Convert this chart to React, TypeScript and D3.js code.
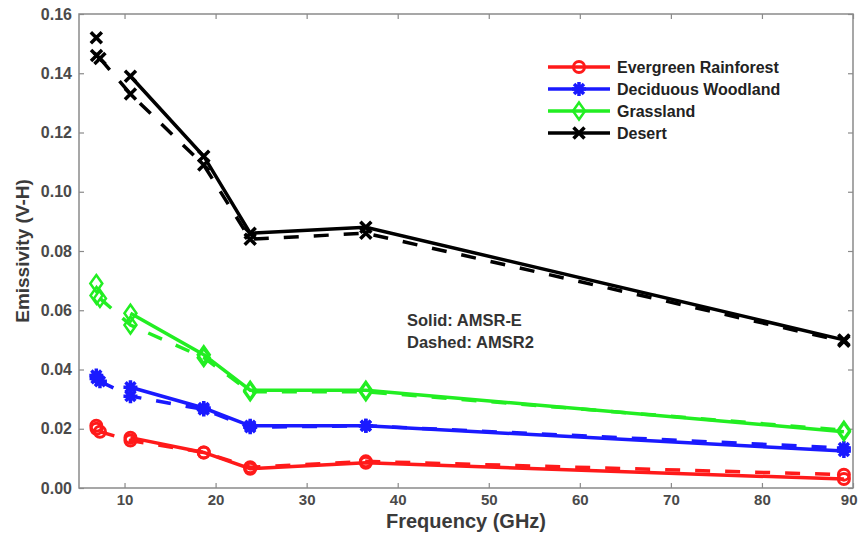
import { useEffect, useRef } from 'react';
import * as d3 from 'd3';

// chart size
const W = 858;
const H = 548;
const margin = { top: 14, right: 5, bottom: 60, left: 79 };

// frequencies (GHz)
const freqAMSRE = [6.9, 10.65, 18.7, 23.8, 36.5, 89];
const freqAMSR2 = [6.925, 7.3, 10.65, 18.7, 23.8, 36.5, 89];

// emissivity differences (V-H), solid = AMSR-E, dashed = AMSR2
const evergreenE = [0.021, 0.017, 0.012, 0.0065, 0.0085, 0.003];
const evergreenA2 = [0.02, 0.019, 0.016, 0.012, 0.007, 0.009, 0.0045];
const deciduousE = [0.038, 0.034, 0.027, 0.021, 0.021, 0.0125];
const deciduousA2 = [0.037, 0.036, 0.031, 0.0265, 0.0205, 0.021, 0.0135];
const grasslandE = [0.069, 0.059, 0.045, 0.033, 0.033, 0.019];
const grasslandA2 = [0.065, 0.064, 0.055, 0.044, 0.0325, 0.0325, 0.0195];
const desertE = [0.152, 0.139, 0.112, 0.086, 0.088, 0.05];
const desertA2 = [0.146, 0.145, 0.133, 0.109, 0.084, 0.086, 0.0495];

const seriesNames = ['Evergreen Rainforest', 'Deciduous Woodland', 'Grassland', 'Desert'];
const seriesColors = ['#ff1a1a', '#1a1aff', '#22ee22', '#000000'];
const seriesMarkers = ['circle', 'asterisk', 'diamond', 'cross'];
const valuesE = [evergreenE, deciduousE, grasslandE, desertE];
const valuesA2 = [evergreenA2, deciduousA2, grasslandA2, desertA2];

const xTicks = [10, 20, 30, 40, 50, 60, 70, 80, 90];
const yTicks = [0, 0.02, 0.04, 0.06, 0.08, 0.1, 0.12, 0.14, 0.16];

const FONT = 'Arial, "Liberation Sans", sans-serif';

type G = d3.Selection<SVGGElement, unknown, null, undefined>;

// draw one MATLAB style marker
const drawMarker = (g: G, kind: string, cx: number, cy: number, color: string) => {
    if (kind === 'circle') {
        g.append('circle').attr('cx', cx).attr('cy', cy).attr('r', 5.5)
            .attr('fill', 'none').attr('stroke', color).attr('stroke-width', 3);
    } else if (kind === 'diamond') {
        g.append('path')
            .attr('d', `M${cx},${cy - 8.5}L${cx + 6},${cy}L${cx},${cy + 8.5}L${cx - 6},${cy}Z`)
            .attr('fill', 'none').attr('stroke', color).attr('stroke-width', 2.5);
    } else if (kind === 'asterisk') {
        const r = 7;
        let d = '';
        for (let a = 0; a < 4; a++) {
            const t = (a * Math.PI) / 4;
            d += `M${cx - r * Math.cos(t)},${cy - r * Math.sin(t)}L${cx + r * Math.cos(t)},${cy + r * Math.sin(t)}`;
        }
        g.append('path').attr('d', d).attr('stroke', color).attr('stroke-width', 3.5);
    } else {
        const r = 5.5;
        g.append('path')
            .attr('d', `M${cx - r},${cy - r}L${cx + r},${cy + r}M${cx - r},${cy + r}L${cx + r},${cy - r}`)
            .attr('stroke', color).attr('stroke-width', 3.5);
    }
};

const App = () => {
    const ref = useRef<SVGSVGElement>(null);

    useEffect(() => {
        const svg = d3.select(ref.current as SVGSVGElement);
        svg.selectAll('*').remove();

        const x = d3.scaleLinear().domain([5, 90]).range([margin.left, W - margin.right]);
        const y = d3.scaleLinear().domain([0, 0.16]).range([H - margin.bottom, margin.top]);

        const axisColor = '#8a8a8a';
        const labelColor = '#4a4a4a';

        // frame (box on)
        svg.append('rect')
            .attr('x', x(5)).attr('y', y(0.16))
            .attr('width', x(90) - x(5)).attr('height', y(0) - y(0.16))
            .attr('fill', 'none').attr('stroke', axisColor).attr('stroke-width', 1.5);

        // axes with inward ticks
        const styleAxis = (size: number) => (g: G) => {
            g.select('.domain').remove();
            g.selectAll('line').attr('stroke', axisColor).attr('stroke-width', 1.2);
            g.selectAll('text')
                .attr('fill', labelColor)
                .style('font-family', FONT)
                .style('font-weight', 'bold')
                .style('font-size', `${size}px`);
        };
        const xAxis = svg.append('g').attr('transform', `translate(0,${y(0)})`)
            .call(d3.axisBottom(x).tickValues(xTicks).tickSize(-5).tickPadding(6).tickFormat(d3.format('d')))
            .call(styleAxis(15));
        // last label sits at the very edge, keep it inside the page
        xAxis.selectAll<SVGTextElement, number>('text')
            .filter(d => d === 90)
            .attr('text-anchor', 'end')
            .attr('x', W - 1 - x(90));
        svg.append('g').attr('transform', `translate(0,${y(0.16)})`)
            .call(d3.axisTop(x).tickValues(xTicks).tickSize(-5).tickFormat(() => ''))
            .call(styleAxis(15));
        svg.append('g').attr('transform', `translate(${x(5)},0)`)
            .call(d3.axisLeft(y).tickValues(yTicks).tickSize(-5).tickPadding(7).tickFormat(d3.format('.2f')))
            .call(styleAxis(16));
        svg.append('g').attr('transform', `translate(${x(90)},0)`)
            .call(d3.axisRight(y).tickValues(yTicks).tickSize(-5).tickFormat(() => ''))
            .call(styleAxis(15));

        // axis titles
        svg.append('text')
            .attr('x', (x(5) + x(90)) / 2).attr('y', 528)
            .attr('text-anchor', 'middle')
            .attr('fill', '#3a3a3a')
            .style('font-family', FONT).style('font-weight', 'bold').style('font-size', '20px')
            .text('Frequency (GHz)');
        svg.append('text')
            .attr('transform', `translate(29,${(y(0) + y(0.16)) / 2}) rotate(-90)`)
            .attr('text-anchor', 'middle')
            .attr('fill', '#3a3a3a')
            .style('font-family', FONT).style('font-weight', 'bold').style('font-size', '19px')
            .text('Emissivity (V-H)');

        // series lines
        const line = d3.line<[number, number]>().x(d => x(d[0])).y(d => y(d[1]));
        const plot = svg.append('g');
        seriesNames.forEach((_, i) => {
            const color = seriesColors[i];
            // dashed AMSR2 line starts at 7.3 GHz
            const ptsA2 = freqAMSR2.map((f, j) => [f, valuesA2[i][j]] as [number, number]);
            plot.append('path').datum(ptsA2.slice(1))
                .attr('d', line)
                .attr('fill', 'none').attr('stroke', color).attr('stroke-width', 3.5)
                .attr('stroke-dasharray', '15 15');
            // solid AMSR-E line starts at 10.65 GHz
            const ptsE = freqAMSRE.map((f, j) => [f, valuesE[i][j]] as [number, number]);
            plot.append('path').datum(ptsE.slice(1))
                .attr('d', line)
                .attr('fill', 'none').attr('stroke', color).attr('stroke-width', 3.5);
            // markers
            const mg = plot.append('g');
            ptsA2.forEach(p => drawMarker(mg, seriesMarkers[i], x(p[0]), y(p[1]), color));
            ptsE.forEach(p => drawMarker(mg, seriesMarkers[i], x(p[0]), y(p[1]), color));
        });

        // legend
        const legend = svg.append('g');
        seriesNames.forEach((name, i) => {
            const ly = 67 + i * 22;
            legend.append('line')
                .attr('x1', 548).attr('x2', 610).attr('y1', ly).attr('y2', ly)
                .attr('stroke', seriesColors[i]).attr('stroke-width', 3.5);
            drawMarker(legend, seriesMarkers[i], 579, ly, seriesColors[i]);
            legend.append('text')
                .attr('x', 617).attr('y', ly + 6)
                .attr('fill', '#222')
                .style('font-family', FONT).style('font-weight', 'bold').style('font-size', '16px')
                .text(name);
        });

        // annotation
        const note = svg.append('g')
            .style('font-family', FONT).style('font-weight', 'bold').style('font-size', '16.5px')
            .attr('fill', '#333');
        note.append('text').attr('x', 407).attr('y', 326).text('Solid: AMSR-E');
        note.append('text').attr('x', 407).attr('y', 348).text('Dashed: AMSR2');

        return () => { svg.selectAll('*').remove(); };
    }, []);

    return (
        <svg ref={ref} width={W} height={H}
            style={{ position: 'absolute', left: 0, top: 0, background: '#fff', display: 'block' }} />
    );
};

export default App;
